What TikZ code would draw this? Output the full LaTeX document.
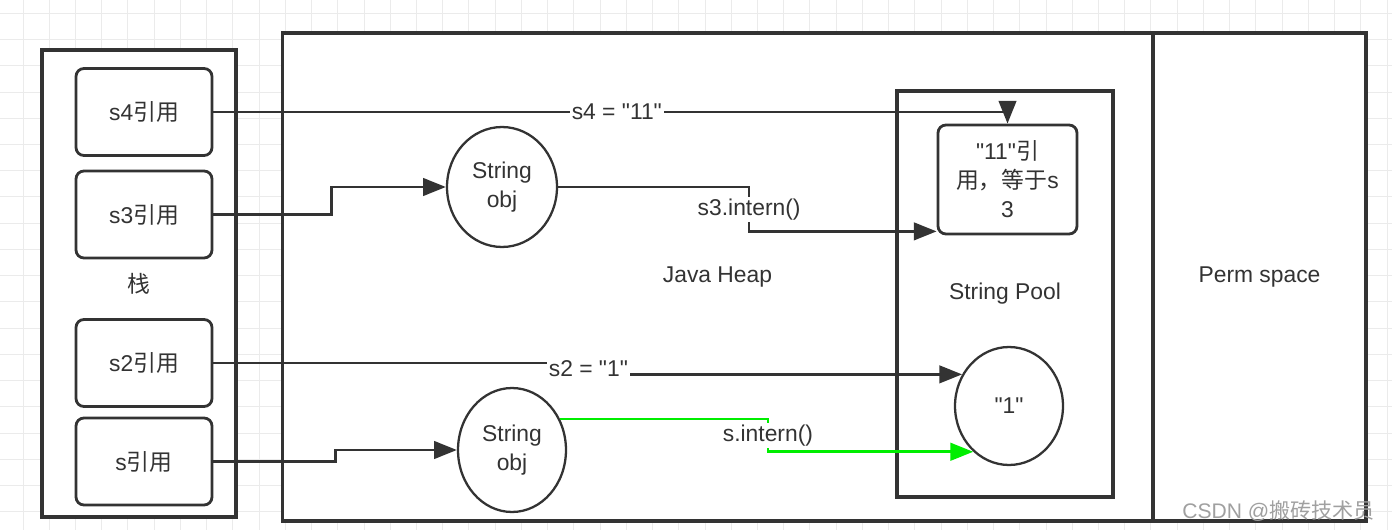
\documentclass[tikz,border=0pt]{standalone}
\usepackage{fontspec}
\setmainfont{Liberation Sans}[Ligatures=TeXOff]
\newfontfamily\cjk{Noto Sans CJK SC}
\usetikzlibrary{arrows.meta,calc,shapes.geometric}
\definecolor{linegray}{HTML}{333333}
\definecolor{textgray}{HTML}{333333}
\definecolor{gridgray}{HTML}{EBEBEB}
\definecolor{pathgreen}{HTML}{00EE00}
\definecolor{markgray}{HTML}{A0A0A0}

\begin{document}
\begin{tikzpicture}[
    x=0.02cm, y=-0.02cm,
    font=\fontsize{13}{16.5}\selectfont,
    area/.style={draw=linegray, line width=1.8pt, fill=white, text=textgray},
    refbox/.style={draw=linegray, line width=1.6pt, rounded corners=4.5pt, fill=white, minimum width=2.72cm, minimum height=1.74cm, text=textgray, align=center},
    objcirc/.style={ellipse, draw=linegray, line width=1.3pt, fill=white, inner sep=0pt, text=textgray, align=center},
    arrow/.style={draw=linegray, line width=1.5pt, -{Triangle[length=13pt, width=10pt]}},
    lbl/.style={fill=white, text=textgray, inner sep=1pt}
]
    % background and grid
    \fill[white] (0,0) rectangle (1392,530);
    \useasboundingbox (0,0) rectangle (1392,530);
    \foreach \i in {0,...,52}
        \draw[gridgray, line width=0.5pt] (23+\i*26.23,0) -- (23+\i*26.23,530);
    \foreach \j in {0,...,19}
        \draw[gridgray, line width=0.5pt] (0,13.3+\j*26.23) -- (1392,13.3+\j*26.23);

    % Stack
    \node[area, minimum width=3.88cm, minimum height=9.34cm] (stack) at (139,283.5) {\cjk 栈};
    \node[refbox] (s4ref) at (144,112) {s4{\cjk 引用}};
    \node[refbox] (s3ref) at (144,214.5) {s3{\cjk 引用}};
    \node[refbox] (s2ref) at (144,363) {s2{\cjk 引用}};
    \node[refbox] (sref) at (144,461.5) {s{\cjk 引用}};

    % Heap, perm space, string pool
    \node[area, minimum width=17.42cm, minimum height=9.76cm] (heap) at (717.5,277) {Java Heap};
    \node[area, minimum width=4.26cm, minimum height=9.76cm] (perm) at (1259.5,277) {Perm space};
    \node[area, minimum width=4.32cm, minimum height=8.12cm] (pool) at (1005,294) {String Pool};

    % Objects
    \node[objcirc, minimum width=2.2cm, minimum height=2.4cm] (obj1) at (502,187) {String\\obj};
    \node[objcirc, minimum width=2.16cm, minimum height=2.48cm] (obj2) at (512,450) {String\\obj};
    \node[refbox, minimum width=2.78cm, minimum height=2.18cm] (lit11) at (1007.5,179.5) {"11"{\cjk 引}\\{\cjk 用，等于}s\\3};
    \node[objcirc, minimum width=2.16cm, minimum height=2.36cm] (lit1) at (1009,406) {"1"};

    % Arrows
    \draw[arrow] (s4ref.east) -| node[lbl, pos=0.254] {s4 = "11"} (lit11.north);
    \draw[arrow] (s3ref.east) -- ++(118,0) |- (obj1.west);
    \draw[arrow] (obj1.east) -- ++(191,0) |- node[lbl, pos=0.25] {s3.intern()} ($(lit11.south west)+(0,-4)$);
    \draw[arrow] (s2ref.east) -- ++(375,0) |- node[lbl, pos=0.25] {s2 = "1"} (lit1.146);
    \draw[arrow] (sref.east) -- ++(122,0) |- (obj2.west);
    \draw[arrow, draw=pathgreen] (obj2.33) -- ++(208,0) |- node[lbl, pos=0.25] {s.intern()} (lit1.232);

    % watermark
    \node[text=markgray, font=\fontsize{12}{14}\selectfont, anchor=east] (mark) at (1381,511) {CSDN @{\cjk 搬砖技术员}};
\end{tikzpicture}
\end{document}
